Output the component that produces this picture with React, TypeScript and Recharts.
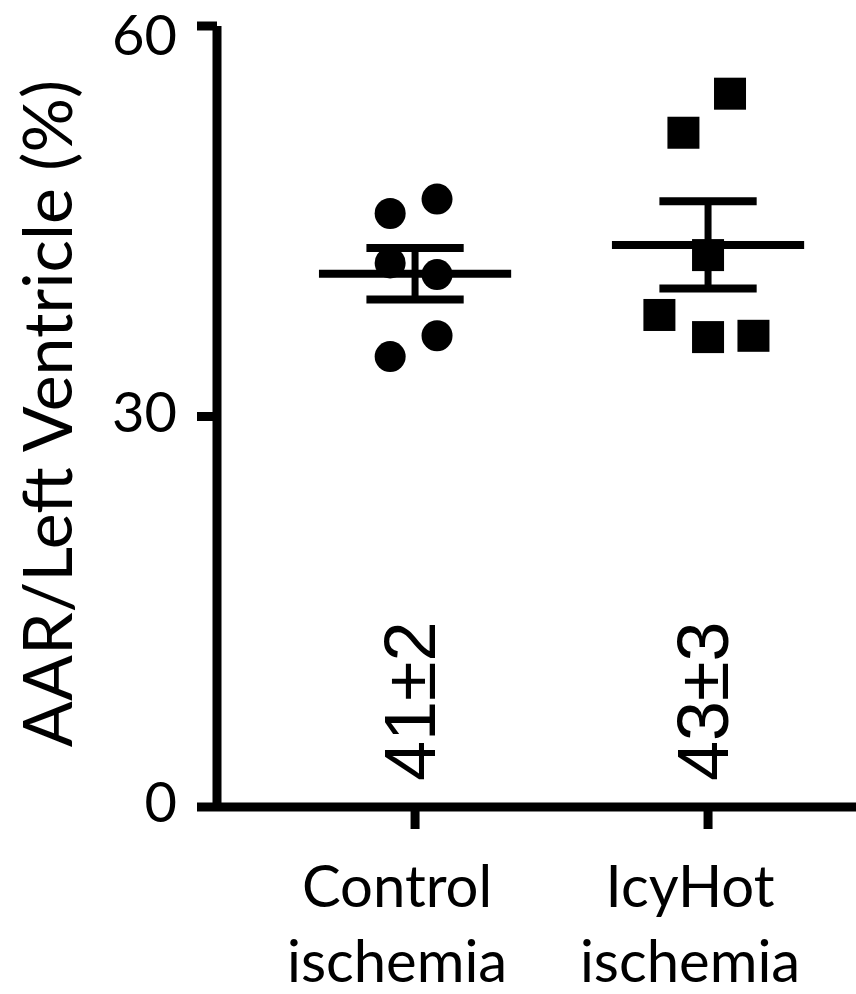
import {
  ScatterChart,
  Scatter,
  XAxis,
  YAxis,
  ReferenceLine,
} from "recharts";

// group positions on the x axis and their two-line labels
const groupPositions = [1, 2];
const groupLabels = [
  ["Control", "ischemia"],
  ["IcyHot", "ischemia"],
];

// individual animals, AAR / LV (%)
const controlValues = [45.6, 46.7, 41.8, 40.9, 36.2, 34.6];
const controlJitter = [-0.085, 0.075, -0.085, 0.075, 0.075, -0.085];
const icyHotValues = [54.8, 51.8, 42.4, 37.8, 36.1, 36.2];
const icyHotJitter = [0.075, -0.084, 0, -0.166, 0, 0.155];

const summaryLabels = ["41±2", "43±3"];
const yTicks = [0, 30, 60];

const INK = "#000";
const LABEL_FONT = "Lato, 'Open Sans', sans-serif";

function meanSem(values: number[]) {
  const n = values.length;
  const mean = values.reduce((a, b) => a + b, 0) / n;
  const sd = Math.sqrt(
    values.reduce((a, b) => a + (b - mean) ** 2, 0) / (n - 1)
  );
  return { mean, sem: sd / Math.sqrt(n) };
}

const controlPoints = controlValues.map((y, i) => ({
  x: groupPositions[0] + controlJitter[i],
  y,
}));
const icyHotPoints = icyHotValues.map((y, i) => ({
  x: groupPositions[1] + icyHotJitter[i],
  y,
}));
const groupStats = [meanSem(controlValues), meanSem(icyHotValues)];
const summaryPoints = summaryLabels.map((label, i) => ({
  x: groupPositions[i],
  y: 2,
  label,
}));

const MEAN_HALF = 0.328;
const CAP_HALF = 0.166;

function CategoryTick(props: any) {
  const { x, y, payload } = props;
  const idx = groupPositions.indexOf(payload.value);
  const lines = groupLabels[idx] || [];
  return (
    <text
      x={x - 18}
      y={y}
      textAnchor="middle"
      fill={INK}
      fontSize={58}
      fontFamily={LABEL_FONT}
    >
      {lines.map((l, i) => (
        <tspan key={i} x={x - 18} dy={i === 0 ? 76 : 75}>
          {l}
        </tspan>
      ))}
    </text>
  );
}

function ValueTick(props: any) {
  const { x, y, payload } = props;
  // keep the top label inside the picture
  const cy = Math.max(y - 5, 35);
  return (
    <text
      x={x}
      y={cy}
      dy="0.36em"
      textAnchor="end"
      fill={INK}
      fontSize={56}
      fontFamily={LABEL_FONT}
    >
      {payload.value}
    </text>
  );
}

function YTitle(props: any) {
  const vb = props.viewBox || { x: 0, y: 26, width: 217, height: 781 };
  const cx = vb.x + 72;
  const cy = vb.y + vb.height / 2 - 3;
  return (
    <text
      x={cx}
      y={cy}
      transform={`rotate(-90, ${cx}, ${cy})`}
      textAnchor="middle"
      fill={INK}
      fontSize={68}
      fontFamily={LABEL_FONT}
    >
      AAR/Left Ventricle (%)
    </text>
  );
}

export default function App() {
  return (
    <div
      style={{
        position: "absolute",
        left: 0,
        top: 0,
        width: 856,
        height: 994,
        background: "#fff",
      }}
    >
      <ScatterChart
        width={856}
        height={994}
        margin={{ top: 26, right: 0, bottom: 0, left: 0 }}
      >
        <XAxis
          type="number"
          dataKey="x"
          domain={[0.324, 2.505]}
          ticks={groupPositions}
          interval={0}
          allowDataOverflow
          height={187}
          tickSize={22}
          tickMargin={2}
          axisLine={{ stroke: INK, strokeWidth: 9 }}
          tickLine={{ stroke: INK, strokeWidth: 9 }}
          tick={(p: any) => <CategoryTick {...p} />}
        />
        <YAxis
          type="number"
          dataKey="y"
          domain={[0, 60]}
          ticks={yTicks}
          interval={0}
          width={217}
          tickSize={20}
          tickMargin={20}
          axisLine={{ stroke: INK, strokeWidth: 9 }}
          tickLine={{ stroke: INK, strokeWidth: 9 }}
          tick={(p: any) => <ValueTick {...p} />}
          label={(p: any) => <YTitle {...p} />}
        />

        {groupStats.map((s, i) => {
          const g = groupPositions[i];
          return [
            <ReferenceLine
              key={`m${i}`}
              segment={[
                { x: g - MEAN_HALF, y: s.mean },
                { x: g + MEAN_HALF, y: s.mean },
              ]}
              stroke={INK}
              strokeWidth={8}
            />,
            <ReferenceLine
              key={`s${i}`}
              segment={[
                { x: g, y: s.mean - s.sem },
                { x: g, y: s.mean + s.sem },
              ]}
              stroke={INK}
              strokeWidth={7}
            />,
            <ReferenceLine
              key={`u${i}`}
              segment={[
                { x: g - CAP_HALF, y: s.mean + s.sem },
                { x: g + CAP_HALF, y: s.mean + s.sem },
              ]}
              stroke={INK}
              strokeWidth={8}
            />,
            <ReferenceLine
              key={`l${i}`}
              segment={[
                { x: g - CAP_HALF, y: s.mean - s.sem },
                { x: g + CAP_HALF, y: s.mean - s.sem },
              ]}
              stroke={INK}
              strokeWidth={8}
            />,
          ];
        })}

        <Scatter
          data={controlPoints}
          isAnimationActive={false}
          shape={(p: any) => <circle cx={p.cx} cy={p.cy} r={15.5} fill={INK} />}
        />
        <Scatter
          data={icyHotPoints}
          isAnimationActive={false}
          shape={(p: any) => (
            <rect x={p.cx - 16} y={p.cy - 16} width={32} height={32} fill={INK} />
          )}
        />
        <Scatter
          data={summaryPoints}
          isAnimationActive={false}
          shape={(p: any) => (
            <text
              x={p.cx + 20}
              y={p.cy}
              transform={`rotate(-90, ${p.cx + 20}, ${p.cy})`}
              textAnchor="start"
              fill={INK}
              fontSize={72}
              fontFamily="'Liberation Sans', Arial, sans-serif"
            >
              {p.payload.label}
            </text>
          )}
        />
      </ScatterChart>
    </div>
  );
}
